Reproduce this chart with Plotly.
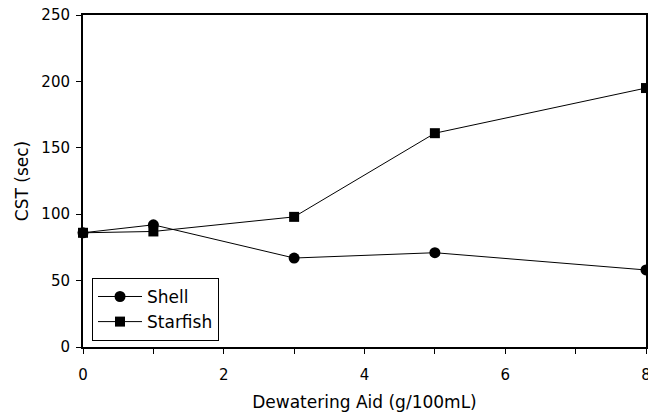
import plotly.graph_objects as go

# Dewatering aid dose (g/100mL) and capillary suction time (sec)
dose = [0, 1, 3, 5, 8]
shell_cst = [86, 92, 67, 71, 58]
starfish_cst = [86, 87, 98, 161, 195]

x_ticks = [0, 1, 2, 3, 4, 5, 6, 7, 8]
x_tick_text = ["0", "", "2", "", "4", "", "6", "", "8"]
y_ticks = [0, 50, 100, 150, 200, 250]

FONT = "DejaVu Sans"

fig = go.Figure()
fig.add_trace(go.Scatter(
    x=dose, y=shell_cst, name="Shell", mode="lines+markers",
    line=dict(color="black", width=1),
    marker=dict(symbol="circle", size=11, color="black"),
    cliponaxis=False,
))
fig.add_trace(go.Scatter(
    x=dose, y=starfish_cst, name="Starfish", mode="lines+markers",
    line=dict(color="black", width=1),
    marker=dict(symbol="square", size=10, color="black"),
    cliponaxis=False,
))

axis_common = dict(
    showgrid=False, zeroline=False, showline=True, linecolor="black",
    linewidth=2, mirror=True, ticks="outside", ticklen=5, tickwidth=1,
    tickcolor="black", tickfont=dict(family=FONT, size=15, color="black"),
    automargin=False,
)

fig.update_layout(
    width=648, height=414,
    margin=dict(l=83, r=2, t=15, b=67),
    paper_bgcolor="white", plot_bgcolor="white",
    font=dict(family=FONT, color="black"),
    xaxis=dict(
        range=[0, 8], tickvals=x_ticks, ticktext=x_tick_text,
        ticklabeloverflow="allow", ticklabelstandoff=8,
        title=dict(text="Dewatering Aid (g/100mL)", font=dict(family=FONT, size=17), standoff=13),
        **axis_common,
    ),
    yaxis=dict(
        range=[0, 250], tickvals=y_ticks, ticklabelstandoff=3,
        title=dict(text="CST (sec)", font=dict(family=FONT, size=17), standoff=8),
        **axis_common,
    ),
    legend=dict(
        x=0.016, y=0.208, xanchor="left", yanchor="top",
        bgcolor="white", bordercolor="black", borderwidth=1,
        font=dict(family=FONT, size=17, color="black"),
        tracegroupgap=0, itemwidth=44,
    ),
    showlegend=True,
)

fig.write_html("out.html")
